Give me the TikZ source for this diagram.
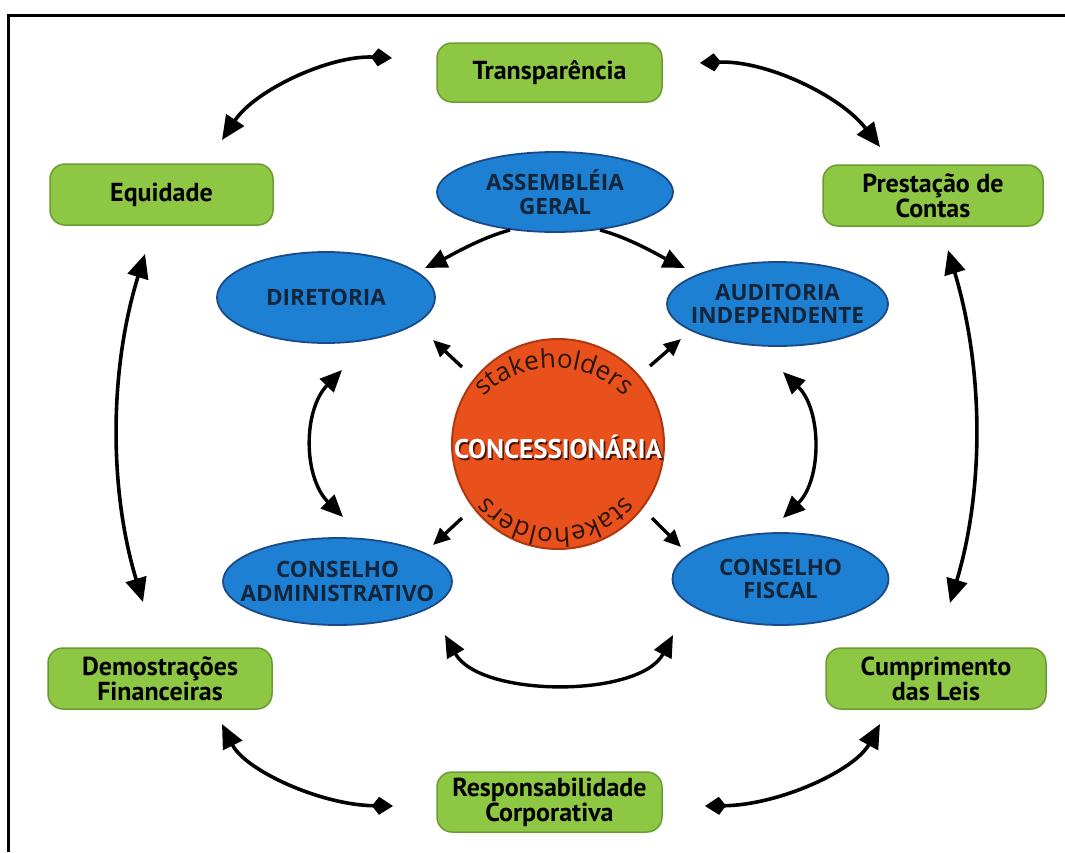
\documentclass[tikz,border=0pt]{standalone}
\usepackage{fontspec}
\setmainfont{PT Sans}
\newfontfamily\ovalfam{Open Sans}
\newfontfamily\stkfam{Open Sans}
\usetikzlibrary{arrows.meta,shapes.geometric,calc,decorations.text}

\definecolor{boxgreen}{HTML}{8DC744}
\definecolor{boxgreenedge}{HTML}{6A9C30}
\definecolor{ovalblue}{HTML}{1E80D2}
\definecolor{ovaledge}{HTML}{1A4A88}
\definecolor{ovaltext}{HTML}{13253A}
\definecolor{hubfill}{HTML}{E8501C}
\definecolor{hubedge}{HTML}{B03810}
\definecolor{hubshadow}{HTML}{4A1404}
\definecolor{stkcol}{HTML}{2A1608}

\newcommand{\stkfont}{\stkfam\fontsize{26}{26}\selectfont}

\tikzset{
  bigtri/.tip={Triangle[length=24pt,width=21pt]},
  midtri/.tip={Triangle[length=22pt,width=19pt]},
  smalltri/.tip={Triangle[length=17pt,width=15pt]},
  kitetip/.tip={Kite[length=21pt,width=18pt,inset=7pt]},
  greenbox/.style={rectangle, rounded corners=15pt, fill=boxgreen,
    draw=boxgreenedge, line width=1.5pt, outer sep=0pt,
    minimum width=223pt, minimum height=60pt, align=center,
    text=black, font=\bfseries\fontsize{26}{25}\selectfont},
  blueoval/.style={ellipse, fill=ovalblue, draw=ovaledge, line width=1.8pt,
    inner xsep=-45pt, inner ysep=-15pt, outer sep=0pt, align=center, text=ovaltext,
    font=\ovalfam\bfseries\fontsize{22.5}{23.5}\selectfont},
  link/.style={line width=3.6pt, black},
  innerlink/.style={line width=3.4pt, black},
}

\begin{document}
\begin{tikzpicture}[x=1pt,y=-1pt]
\useasboundingbox (0,0) rectangle (1065,852);

% frame lines along the top and left
\draw[line width=3pt] (8,852) -- (8,15) -- (1066,15);

% principles in green boxes
\node[greenbox, minimum width=225pt, minimum height=59pt] (trans) at (549.5,72.5) {Transparência};
\node[greenbox, minimum height=61pt] (equi) at (161.5,194.5) {Equidade};
\node[greenbox, minimum width=220pt, minimum height=61pt] (prest) at (933,195.5) {Prestação de\\Contas};
\node[greenbox, minimum width=224pt, minimum height=61pt] (demo) at (160,678.5) {Demostrações\\Financeiras};
\node[greenbox, minimum width=220pt, minimum height=61pt] (cump) at (936,678.5) {Cumprimento\\das Leis};
\node[greenbox, minimum width=225pt] (resp) at (549.5,802) {Responsabilidade\\Corporativa};

% governance bodies in blue ovals
\node[blueoval, minimum width=236pt, minimum height=80pt] (assem) at (555,192) {ASSEMBLÉIA\\GERAL};
\node[blueoval, minimum width=218pt, minimum height=91pt] (dire) at (326,297.5) {DIRETORIA};
\node[blueoval, minimum width=221pt, minimum height=84pt] (audi) at (777.5,304) {AUDITORIA\\INDEPENDENTE};
\node[blueoval, minimum width=229pt, minimum height=87pt] (cadm) at (337.5,581.5) {CONSELHO\\ADMINISTRATIVO};
\node[blueoval, minimum width=216pt, minimum height=92pt] (cfis) at (780.5,579) {CONSELHO\\FISCAL};

% central company disc
\node[ellipse, fill=hubfill, draw=hubedge, line width=2pt, minimum width=212pt,
      minimum height=210pt, inner sep=0pt] (conc) at (558,444) {};
\node[anchor=base, text=hubshadow, inner sep=0pt, font=\bfseries\fontsize{27}{27}\selectfont]
  (concshadow) at ($(conc.center)+(1.6,16.1)$) {CONCESSIONÁRIA};
\node[anchor=base, text=white, inner sep=0pt, font=\bfseries\fontsize{27}{27}\selectfont]
  (conctext) at ($(conc.center)+(0,14.5)$) {CONCESSIONÁRIA};

% curved "stakeholders" along the upper and lower rim
\path[decorate, decoration={text along path, text={|\stkfont|stakeholders},
      text align=center, text color=stkcol}]
  ($(conc.center)+(-98.9,-9.5)$) arc[start angle=-160, end angle=-20, radius=101];
\path[decorate, decoration={text along path, text={|\stkfont|stakeholders},
      text align=center, text color=stkcol}]
  ($(conc.center)+(81.6,25.4)$) arc[start angle=20, end angle=160, radius=89];

% outer ring of principles
\draw[link, kitetip-bigtri] ($(trans.west)+(-45,-14.5)$)
  .. controls +(-62,-3) and +(33,-50) .. ($(equi.north)+(60.5,-24)$);
\draw[link, kitetip-bigtri] ($(trans.east)+(38,-9.5)$)
  .. controls +(65,-3) and +(-40,-52) .. ($(prest.north)+(-53,-18)$);
\draw[link, bigtri-bigtri] ($(equi.south)+(-16.5,29)$)
  .. controls +(-36,116) and +(-34,-112) .. ($(demo.north)+(-17,-46)$);
\draw[link, bigtri-bigtri] ($(prest.south)+(15,24)$)
  .. controls +(36,120) and +(34,-113) .. ($(cump.north)+(14,-45)$);
\draw[link, bigtri-kitetip] ($(demo.south)+(62,15)$)
  .. controls +(23,46) and +(-73,-1) .. ($(resp.west)+(-44,4)$);
\draw[link, kitetip-bigtri] ($(resp.east)+(43,4)$)
  .. controls +(75,-1) and +(-25,46) .. ($(cump.south)+(-56,15)$);

% inner ring of governance bodies
\draw[innerlink, -midtri] ($(assem.center)+(-45,38)$)
  .. controls +(-30,8) and +(25,-12) .. ($(dire.center)+(99,-29.5)$);
\draw[innerlink, -midtri] ($(assem.center)+(45,38)$)
  .. controls +(30,8) and +(-25,-12) .. ($(audi.center)+(-92.5,-36)$);
\draw[innerlink, midtri-midtri] ($(dire.center)+(16,72.5)$)
  .. controls +(-39,40) and +(-40,-40) .. ($(cadm.center)+(5.5,-64.5)$);
\draw[innerlink, midtri-midtri] ($(audi.center)+(5.5,68)$)
  .. controls +(39,38) and +(39,-38) .. ($(cfis.center)+(2.5,-61)$);
\draw[innerlink, midtri-midtri] ($(cadm.center)+(107.5,53.5)$)
  .. controls +(35,63) and +(-33,63) .. ($(cfis.center)+(-107.5,56)$);

% stakeholder arrows leaving the disc
\draw[innerlink, -smalltri] ($(conc.center)+(-96,-77)$) -- ($(dire.center)+(107,42.5)$);
\draw[innerlink, -smalltri] ($(conc.center)+(92,-78)$) -- ($(audi.center)+(-96.5,35)$);
\draw[innerlink, -smalltri] ($(conc.center)+(-96,74)$) -- ($(cadm.center)+(95.5,-36.5)$);
\draw[innerlink, -smalltri] ($(conc.center)+(94,74)$) -- ($(cfis.center)+(-99.5,-32)$);
\end{tikzpicture}
\end{document}
